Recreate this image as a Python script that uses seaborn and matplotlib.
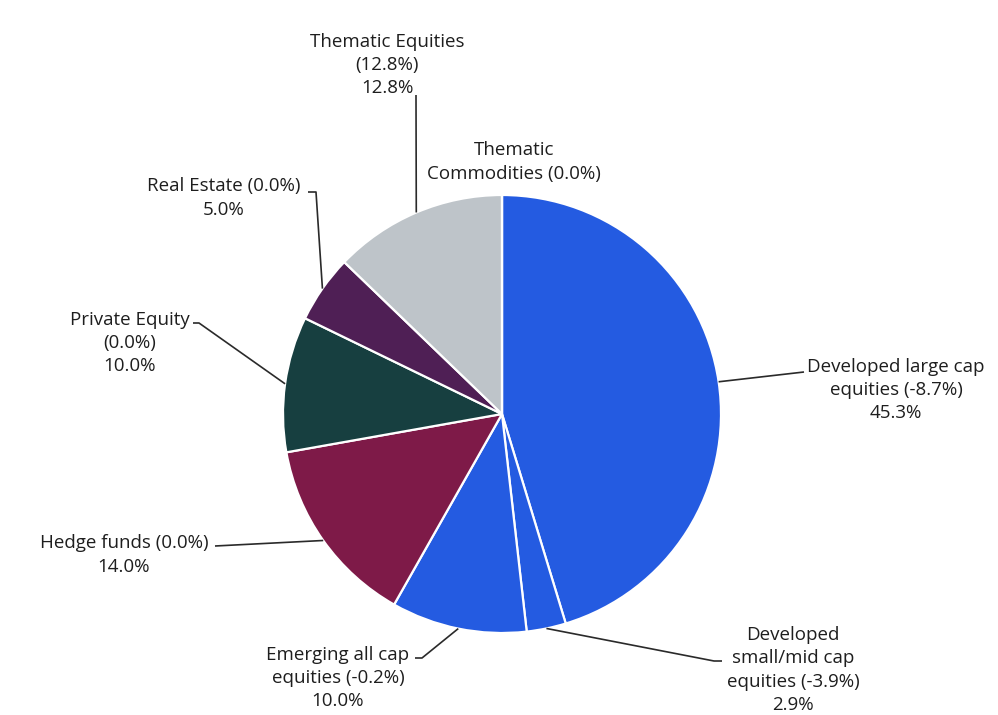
import numpy as np
import matplotlib
matplotlib.use("Agg")
import matplotlib.pyplot as plt
import seaborn as sns

# Portfolio allocation by asset class (share of portfolio, and change in brackets)
names = [
    "Developed large cap\nequities",
    "Developed\nsmall/mid cap\nequities",
    "Emerging all cap\nequities",
    "Hedge funds",
    "Private Equity\n",
    "Real Estate",
    "Thematic Equities\n",
    "Thematic\nCommodities",
]
shares = [45.3, 2.9, 10.0, 14.0, 10.0, 5.0, 12.8, 0.0]
changes = [-8.7, -3.9, -0.2, 0.0, 0.0, 0.0, 12.8, 0.0]
colors = ["#245BE1", "#245BE1", "#245BE1", "#7E1A48", "#173F40",
          "#4F1F55", "#BEC4C9", "#9AA3AA"]

sns.set_theme(style="white")
plt.rcParams["font.family"] = ["Open Sans", "DejaVu Sans"]

W, H = 998, 715
fig = plt.figure(figsize=(W / 100, H / 100), dpi=100)
ax = fig.add_axes([0, 0, 1, 1])

cx, cy, r = 502, H - 414, 219
wedges, _ = ax.pie(
    shares, colors=colors, startangle=90, counterclock=False,
    center=(cx, cy), radius=r,
    wedgeprops=dict(edgecolor="white", linewidth=1.6),
)
ax.set_xlim(0, W)
ax.set_ylim(0, H)
ax.set_aspect("equal")
ax.axis("off")


def label_text(name, chg, share):
    sep = "" if name.endswith("\n") else " "
    txt = f"{name}{sep}({chg:.1f}%)"
    if share > 0:
        txt += f"\n{share:.1f}%"
    return txt


# label block centres and leader elbow points (pixel layout, y from top)
label_pos = [(896, 390), (793, 670), (338, 678), (124, 555),
             (130, 343), (224, 198), (387, 65), (514, 162)]
elbows = [
    [(804, 372)],
    [(714, 661), (722, 661)],
    [(422, 658), (415, 658)],
    [(215, 546)],
    [(199, 323), (193, 323)],
    [(316, 192), (308, 192)],
    [(416, 95)],
    None,
]

for w, name, chg, share, pos, elb in zip(wedges, names, changes, shares,
                                         label_pos, elbows):
    ax.text(pos[0], H - pos[1], label_text(name, chg, share),
            ha="center", va="center", multialignment="center",
            fontsize=13.5, color="#1e1e1e", linespacing=1.36)
    if elb is None:
        continue
    theta = np.deg2rad((w.theta1 + w.theta2) / 2)
    xs = [cx + r * np.cos(theta)] + [p[0] for p in elb]
    ys = [cy + r * np.sin(theta)] + [H - p[1] for p in elb]
    ax.plot(xs, ys, color="#2a2a2a", lw=1.2, solid_capstyle="butt")

fig.savefig("out.png", dpi=100, facecolor="white")
